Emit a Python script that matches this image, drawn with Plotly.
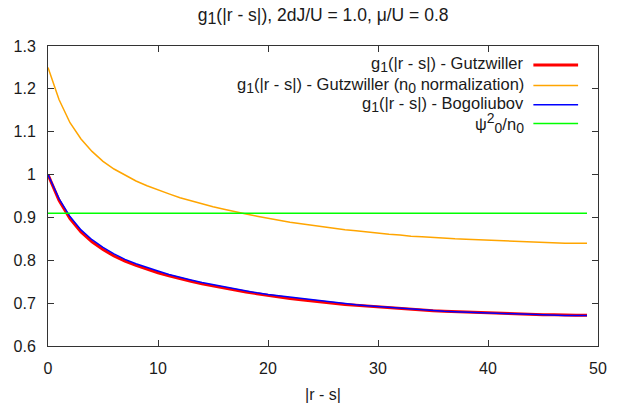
import plotly.graph_objects as go

r = list(range(50))

g1_gutzwiller = [1.000, 0.940, 0.897, 0.866, 0.843, 0.825, 0.810, 0.798, 0.788, 0.779,
                 0.771, 0.764, 0.757, 0.751, 0.745, 0.740, 0.735, 0.730, 0.726, 0.722,
                 0.718, 0.715, 0.711, 0.708, 0.705, 0.702, 0.700, 0.697, 0.695, 0.693,
                 0.691, 0.689, 0.687, 0.685, 0.684, 0.682, 0.681, 0.680, 0.679, 0.678,
                 0.677, 0.676, 0.675, 0.674, 0.674, 0.673, 0.673, 0.672, 0.672, 0.672]

g1_gutzwiller_n0 = [1.250, 1.175, 1.121, 1.083, 1.054, 1.031, 1.013, 0.998, 0.985, 0.974,
                    0.964, 0.955, 0.946, 0.939, 0.931, 0.925, 0.919, 0.913, 0.908, 0.903,
                    0.898, 0.894, 0.889, 0.885, 0.881, 0.878, 0.875, 0.871, 0.869, 0.866,
                    0.864, 0.861, 0.859, 0.856, 0.855, 0.853, 0.851, 0.850, 0.849, 0.848,
                    0.846, 0.845, 0.844, 0.843, 0.843, 0.841, 0.841, 0.840, 0.840, 0.840]

g1_bogoliubov = [1.000, 0.944, 0.902, 0.871, 0.848, 0.830, 0.815, 0.802, 0.792, 0.783,
                 0.775, 0.767, 0.760, 0.754, 0.748, 0.743, 0.738, 0.733, 0.728, 0.724,
                 0.720, 0.717, 0.713, 0.710, 0.707, 0.704, 0.701, 0.699, 0.696, 0.694,
                 0.692, 0.690, 0.688, 0.686, 0.684, 0.683, 0.681, 0.680, 0.679, 0.678,
                 0.677, 0.676, 0.675, 0.674, 0.673, 0.672, 0.672, 0.671, 0.671, 0.671]

psi0_sq_over_n0 = [0.91] * 50

S = '<span style="font-size:14px">'
series_names = [
    f"g<sub>{S}1</span></sub>(|r - s|) - Gutzwiller",
    f"g<sub>{S}1</span></sub>(|r - s|) - Gutzwiller (n<sub>{S}0</span></sub> normalization)",
    f"g<sub>{S}1</span></sub>(|r - s|) - Bogoliubov",
    f"ψ<sup>{S}2</span></sup><sub>{S}0</span></sub>/n<sub>{S}0</span></sub>",
]
series_values = [g1_gutzwiller, g1_gutzwiller_n0, g1_bogoliubov, psi0_sq_over_n0]
series_colors = ["#ff0000", "#ffa500", "#0000ff", "#00ff00"]
series_widths = [3, 1.5, 1.5, 1.5]

T = '<span style="font-size:16px">'
title_text = f"g<sub>{T}1</span></sub>(|r - s|), 2dJ/U = 1.0, μ/U = 0.8"
x_title = "|r - s|"

x_ticks = [0, 10, 20, 30, 40, 50]
y_ticks = [0.6, 0.7, 0.8, 0.9, 1.0, 1.1, 1.2, 1.3]
y_tick_labels = ["0.6", "0.7", "0.8", "0.9", "1", "1.1", "1.2", "1.3"]

FONT = "Liberation Sans, Arial, sans-serif"
TXT = "#1a1a1a"

fig = go.Figure()
for name, vals, col, w in zip(series_names, series_values, series_colors, series_widths):
    fig.add_trace(go.Scatter(x=r, y=vals, mode="lines", name=name,
                             line=dict(color=col, width=w), showlegend=False))

# gnuplot-style legend: right-aligned text with line sample on the right
legend_y = [0.937, 0.868, 0.804, 0.742]
annotations = []
shapes = []
for name, col, w, yy in zip(series_names, series_colors, series_widths, legend_y):
    annotations.append(dict(xref="paper", yref="paper", x=0.869, y=yy, text=name,
                            showarrow=False, xanchor="right", yanchor="middle",
                            font=dict(family=FONT, size=16.5, color=TXT)))
    shapes.append(dict(type="line", xref="paper", yref="paper", x0=0.8825, x1=0.9638,
                       y0=yy, y1=yy, line=dict(color=col, width=w)))

fig.update_layout(
    width=619, height=412,
    margin=dict(l=48, r=18, t=46, b=63),
    paper_bgcolor="white", plot_bgcolor="white",
    title=dict(text=title_text,
               x=0.522, xanchor="center", y=0.965, yanchor="middle",
               font=dict(family=FONT, size=17.5, color=TXT)),
    font=dict(family=FONT, size=16, color=TXT),
    annotations=annotations,
    shapes=shapes,
)
fig.update_xaxes(range=[0, 50], tickvals=x_ticks, ticks="inside", ticklen=6,
                 showline=True, mirror="ticks", linecolor="#333", linewidth=1,
                 tickcolor="#333", showgrid=False, zeroline=False,
                 ticklabelstandoff=8,
                 title=dict(text=x_title, font=dict(family=FONT, size=16, color=TXT), standoff=12),
                 tickfont=dict(family=FONT, size=16, color=TXT))
fig.update_yaxes(range=[0.6, 1.3], tickvals=y_ticks, ticktext=y_tick_labels,
                 ticks="inside", ticklen=6, ticklabelstandoff=8,
                 showline=True, mirror="ticks", linecolor="#333", linewidth=1,
                 tickcolor="#333", showgrid=False, zeroline=False,
                 tickfont=dict(family=FONT, size=16, color=TXT))

fig.write_html("out.html", config={"displayModeBar": False},
               post_script="document.body.style.margin='0';document.body.style.padding='0';")
